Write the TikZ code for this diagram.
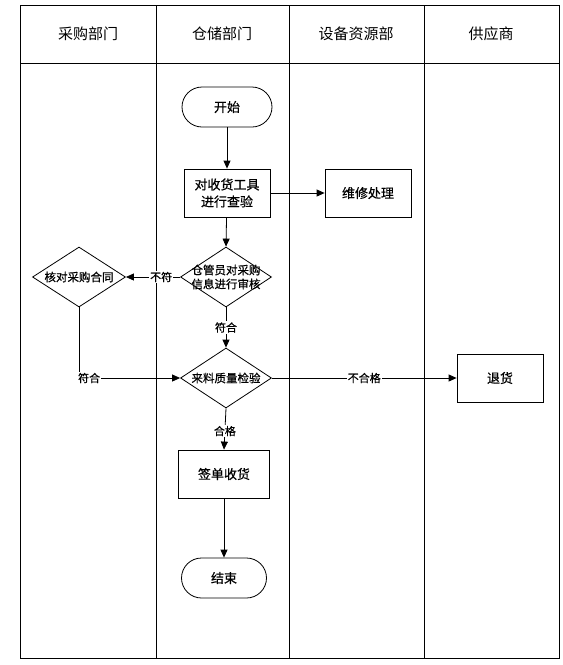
\documentclass[tikz,border=0pt]{standalone}
\usepackage{fontspec}
\setmainfont{Noto Sans CJK SC}
\newfontfamily\nodefont{Noto Sans CJK SC}[FakeBold=0.6]
\usetikzlibrary{shapes.geometric,arrows.meta}
\begin{document}
\begin{tikzpicture}[x=1pt,y=-1pt,
  line width=0.8pt,
  arr/.style={-{Triangle[length=8pt,width=7pt]}},
  hdr/.style={font=\fontsize{15}{18}\selectfont},
  term/.style={draw,rounded corners=20pt,minimum width=90pt,minimum height=40pt,font=\nodefont\fontsize{13}{16}\selectfont},
  proc/.style={draw,minimum width=86pt,minimum height=48pt,font=\nodefont\fontsize{13}{17}\selectfont,align=center},
  dshape/.style={draw,diamond,minimum width=91pt,minimum height=60pt,inner sep=0pt},
  dtext/.style={font=\nodefont\fontsize{11.5}{14}\selectfont,align=center},
  lbl/.style={fill=white,inner sep=1pt,font=\nodefont\fontsize{11}{13}\selectfont}]
\useasboundingbox (0,0) rectangle (563,665);
\draw[line width=1pt] (20,5) rectangle (559,658);
\draw (20,63) -- (559,63);
\foreach \x in {156,289,424} \draw (\x,5) -- (\x,658);
\node[hdr] (h1) at (88,34) {采购部门};
\node[hdr] (h2) at (222,34) {仓储部门};
\node[hdr] (h3) at (356,34) {设备资源部};
\node[hdr] (h4) at (491,34) {供应商};
% nodes
\node[term] (start) at (227,107) {开始};
\node[proc] (check) at (227,193) {对收货工具\\进行查验};
\node[proc] (repair) at (368,193) {维修处理};
\node[dshape] (audit) at (226,277) {};
\node[dtext] (auditT) at (226,277) {仓管员对采购\\信息进行审核};
\node[dshape,minimum width=93pt] (contract) at (79,277) {};
\node[dtext] (contractT) at (79,277) {核对采购合同};
\node[dshape] (qc) at (226,378) {};
\node[dtext] (qcT) at (226,378) {来料质量检验};
\node[proc] (ret) at (500,378) {退货};
\node[proc,minimum width=91pt] (sign) at (224,474) {签单收货};
\node[term,minimum width=85pt] (end) at (224,578) {结束};
% connectors
\draw[arr] (start) -- (check);
\draw[arr] (check.east) -- (repair.west);
\draw[arr] (check) -- (audit.north);
\draw[arr] (audit.west) -- node[lbl,pos=0.35]{不符} (contract.east);
\draw[arr] (audit.south) -- node[lbl,pos=0.5]{符合} (qc.north);
\coordinate (bend) at (79,378);
\draw[arr] (contract.south) -- (bend) -- node[lbl,pos=0.1]{符合} (qc.west);
\draw[arr] (qc.east) -- node[lbl,pos=0.5]{不合格} (ret.west);
\draw[arr] (qc.south) -- node[lbl,pos=0.55]{合格} (sign.north);
\draw[arr] (sign) -- (end);
\end{tikzpicture}
\end{document}
